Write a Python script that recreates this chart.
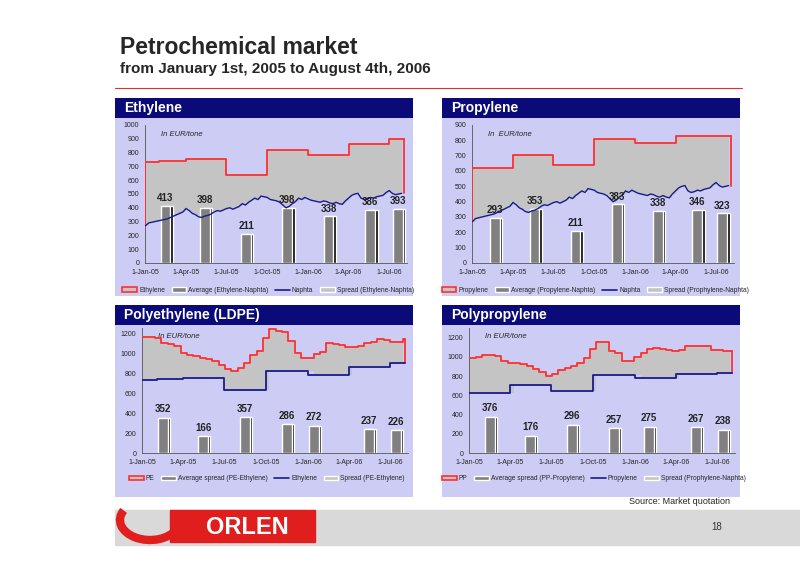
import numpy as np, pandas as pd, seaborn as sns
import matplotlib
matplotlib.use("Agg")
import matplotlib.pyplot as plt
import matplotlib.dates as mdates
from matplotlib.patches import Rectangle, Arc, Patch
from matplotlib.lines import Line2D

sns.set_style("white")
plt.rcParams['font.family'] = ['Liberation Sans', 'DejaVu Sans']

# ---------------- data ----------------
naphta = [270,290,295,300, 305,310,315,320, 330,340,350,360,370, 395,380,360,350,
          335,330,340,345, 355,370,380,375, 385,395,400,390,400, 410,430,420,440,
          455,470,460,485, 480,475,460,455,450, 440,420,400,410, 430,445,470,460,
          475,465,455,450,445, 440,450,445,435, 430,440,430,425, 450,470,490,500,505,
          470,460,465,475, 470,480,485,490, 510,525,505,495, 500,505]
month_starts = pd.date_range("2005-01-01", "2006-08-01", freq="MS")
ethylene_m = [730,740,740,750,750,750,635,635,635,820,820,820,785,785,785,860,860,860,900,900]
propylene_m = [620,620,620,705,705,705,640,640,640,810,810,810,785,785,785,825,825,825,830,830]
pe = [1160,1160,1150,1100,1090,1070,1000,980,975,955,945,920,880,840,825,850,900,980,1020,1150,
      1240,1225,1210,1120,1000,950,955,990,1010,1100,1095,1080,1060,1065,1075,1100,1110,1140,1130,1110,1115,1145]
pp = [990,1000,1020,1020,1010,960,940,935,925,910,870,840,800,820,860,880,900,940,990,1080,
      1150,1150,1060,1040,960,960,1000,1040,1080,1090,1085,1070,1065,1070,1110,1110,1110,1110,1075,1070,1065,1065]
bar_dates = pd.to_datetime(["2005-02-15","2005-05-15","2005-08-15","2005-11-15","2006-02-15","2006-05-20","2006-07-20"])
eth_spread = [413,398,211,398,338,386,393]
pro_dates = pd.to_datetime(["2005-02-20","2005-05-20","2005-08-20","2005-11-20","2006-02-20","2006-05-20","2006-07-15"])
pro_spread = [293,353,211,383,338,346,323]
pe_dates = pd.to_datetime(["2005-02-15","2005-05-15","2005-08-15","2005-11-15","2006-01-15","2006-05-15","2006-07-15"])
pe_spread = [352,166,357,286,272,237,226]
pp_dates = pd.to_datetime(["2005-02-15","2005-05-15","2005-08-15","2005-11-15","2006-02-01","2006-05-15","2006-07-15"])
pp_spread = [376,176,296,257,275,267,238]
xtick_dates = pd.to_datetime(["2005-01-01","2005-04-01","2005-07-01","2005-10-01","2006-01-01","2006-04-01","2006-07-01"])
xtick_labels = ["1-Jan-05","1-Apr-05","1-Jul-05","1-Oct-05","1-Jan-06","1-Apr-06","1-Jul-06"]

weeks = pd.date_range("2005-01-01", periods=len(naphta), freq="7D")
biweeks = pd.date_range("2005-01-01", periods=len(pe), freq="14D")
END = pd.Timestamp("2006-08-04")

def step_at(dates, mdates_, mvals):
    idx = np.searchsorted(mdates_.values, dates.values, side="right") - 1
    return np.array(mvals)[np.clip(idx, 0, len(mvals)-1)]

W, H = 800, 565
fig = plt.figure(figsize=(8, 5.65), dpi=100)
fig.patch.set_facecolor("white")
def fr(x, y, w, h):
    return [x/W, 1-(y+h)/H, w/W, h/H]

fig.text(120/W, 1-47/H, "Petrochemical market", fontsize=16.5, weight="bold", va="center")
fig.text(120/W, 1-69/H, "from January 1st, 2005 to August 4th, 2006", fontsize=11, weight="bold", va="center")
fig.add_artist(Line2D([115/W, 742/W], [1-88/H]*2, color="#E03030", lw=0.8))

BG = "#CCCCF4"; NAVY = "#0A0A78"; RED = "#FF3030"; FILL = "#C4C4C4"; LINE = "#1A1A90"

def panel(x, y, w, h, title):
    bg = fig.add_axes(fr(x, y, w, h)); bg.set_axis_off()
    bg.add_patch(Rectangle((0, 0), 1, 1, color=BG, transform=bg.transAxes))
    hd = fig.add_axes(fr(x, y, w, 20)); hd.set_axis_off()
    hd.add_patch(Rectangle((0, 0), 1, 1, color=NAVY, transform=hd.transAxes))
    hd.text(0.03, 0.5, title, color="white", fontsize=10, weight="bold", va="center")

def bars(ax, bd, bv, off):
    for d, v in zip(bd, bv):
        ax.bar(d + pd.Timedelta(days=5), v, width=22, color="black", zorder=3)
        ax.bar(d, v, width=22, color="#808080", zorder=3)
        ax.text(d, v + off, str(v), ha="center", va="bottom", fontsize=7, weight="bold", color="#222222", zorder=5)

def finish(ax, ylim, yticks, unit, handles, labels):
    ax.set_xlim(pd.Timestamp("2004-12-31"), pd.Timestamp("2006-08-10"))
    ax.set_ylim(*ylim); ax.set_yticks(yticks)
    ax.set_xticks(xtick_dates); ax.set_xticklabels(xtick_labels)
    ax.tick_params(labelsize=5, length=2, pad=2)
    for s in ["top", "right"]: ax.spines[s].set_visible(False)
    for s in ["left", "bottom"]: ax.spines[s].set_color("#555555"); ax.spines[s].set_linewidth(0.6)
    ax.set_xlabel(""); ax.set_ylabel("")
    ax.text(0.06, 0.92, unit, transform=ax.transAxes, fontsize=5.5, style="italic")
    ax.legend(handles, labels, loc="upper center", bbox_to_anchor=(0.47, -0.13), ncol=4, frameon=False,
              fontsize=4.8, handlelength=2.2, handletextpad=0.3, columnspacing=1.0)

def handles4(a, b, c, d):
    h = [Patch(facecolor=FILL, edgecolor=RED, lw=1.2), Patch(facecolor="#808080"),
         Line2D([], [], color=LINE, lw=1.2), Patch(facecolor=FILL)]
    return h, [a, b, c, d]

# --- Ethylene / Propylene ---
for (px, title, mvals, bd, bv, ylim, yt, unit, labs) in [
    (115, "Ethylene", ethylene_m, bar_dates, eth_spread, (0, 1000), range(0, 1001, 100), "In EUR/tone",
     ("Ethylene", "Average (Ethylene-Naphta)", "Naphta", "Spread (Ethylene-Naphta)")),
    (442, "Propylene", propylene_m, pro_dates, pro_spread, (0, 900), range(0, 901, 100), "In  EUR/tone",
     ("Propylene", "Average (Propylene-Naphta)", "Naphta", "Spread (Prophylene-Naphta)"))]:
    panel(px, 98, 298, 198, title)
    ax = fig.add_axes(fr(px + 30, 125, 262, 138)); ax.set_facecolor(BG)
    top = step_at(weeks, month_starts, mvals)
    ax.fill_between(weeks, naphta, top, step="post", color=FILL, lw=0)
    bars(ax, bd, bv, ylim[1]*0.02)
    sx = list(month_starts[:-1]) + [END, END]
    sy = list(mvals[:-1]) + [mvals[-1], naphta[-1]]
    ax.step(sx[:-1], sy[:-1], where="post", color=RED, lw=1.3, zorder=4)
    ax.plot([sx[0], sx[0]], [naphta[0], sy[0]], color=RED, lw=1.3, zorder=4)
    ax.plot([END, END], [sy[-2], sy[-1]], color=RED, lw=1.3, zorder=4)
    sns.lineplot(x=weeks, y=naphta, ax=ax, color=LINE, lw=1.0, zorder=4)
    h, l = handles4(*labs)
    finish(ax, ylim, yt, unit, h, l)

# --- Polyethylene / Polypropylene ---
for (px, title, prod, mvals, bd, bv, ylim, yt, labs) in [
    (115, "Polyethylene (LDPE)", pe, ethylene_m, pe_dates, pe_spread, (0, 1250), range(0, 1201, 200),
     ("PE", "Average spread (PE-Ethylene)", "Ethylene", "Spread (PE-Ethylene)")),
    (442, "Polypropylene", pp, propylene_m, pp_dates, pp_spread, (0, 1300), range(0, 1201, 200),
     ("PP", "Average spread (PP-Propylene)", "Propylene", "Spread (Prophylene-Naphta)"))]:
    panel(px, 305, 298, 192, title)
    ax = fig.add_axes(fr(px + 27, 328, 266, 125)); ax.set_facecolor(BG)
    base = step_at(biweeks, month_starts, mvals)
    ax.fill_between(biweeks, base, prod, step="post", color=FILL, lw=0)
    bars(ax, bd, bv, ylim[1]*0.03)
    ax.step(list(biweeks) + [END], list(prod) + [prod[-1]], where="post", color=RED, lw=1.3, zorder=4)
    ax.plot([END, END], [prod[-1], mvals[-1]], color=RED, lw=1.3, zorder=4)
    sx = list(month_starts[:-1]) + [END]
    sy = list(mvals[:-1]) + [mvals[-1]]
    ax.step(sx, sy, where="post", color=LINE, lw=1.3, zorder=4)
    h, l = handles4(*labs)
    finish(ax, ylim, yt, "In EUR/tone", h, l)

fig.text(730/W, 1-501/H, "Source: Market quotation", fontsize=6.5, ha="right", va="center")

# footer band + logo
fa = fig.add_axes([0, 0, 1, 1], zorder=-1); fa.set_axis_off(); fa.set_xlim(0, W); fa.set_ylim(H, 0)
fa.add_patch(Rectangle((115, 510), 685, 35, color="#D9D9D9"))
fa.add_patch(Rectangle((170, 510), 145, 32, color="#E01E1E"))
fa.text(247, 527, "ORLEN", color="white", fontsize=17, weight="bold", ha="center", va="center")
fa.add_patch(Arc((150, 520), 60, 40, theta1=20, theta2=200, color="#E01E1E", lw=6))
fa.text(722, 527, "18", fontsize=7, ha="right", va="center", color="#333333")

fig.savefig("out.png", dpi=100, facecolor="white")
